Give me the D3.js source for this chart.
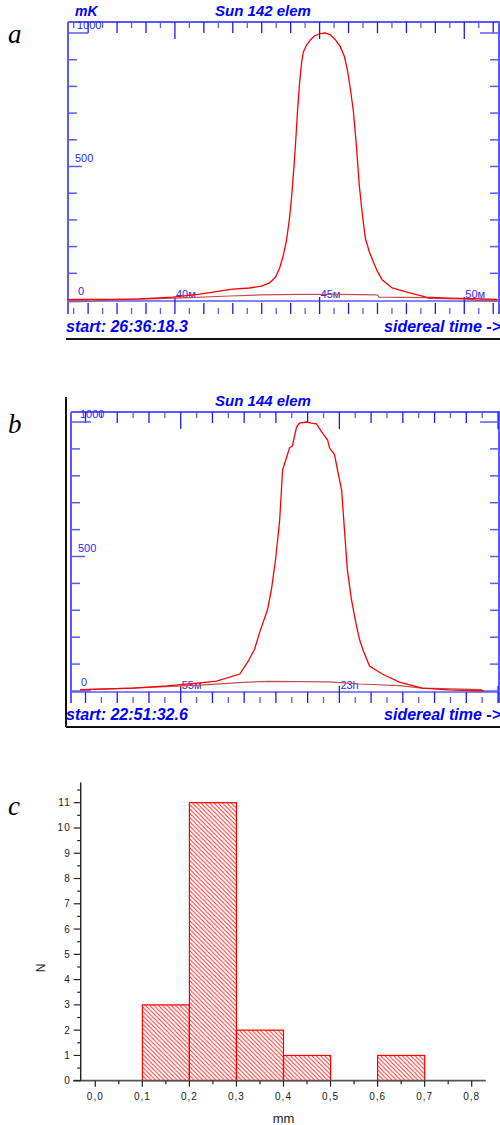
<!DOCTYPE html>
<html>
<head>
<meta charset="utf-8">
<script src="https://cdn.jsdelivr.net/npm/d3@7/dist/d3.min.js"></script>
<style>
	body { margin: 0; background: #fff; }
	svg { display: block; }
	.panel-letter { font-family: "Liberation Serif", "Times New Roman", serif; font-style: italic; font-size: 27px; fill: #000; }
	.scan-title { font-family: "Liberation Sans", Arial, sans-serif; font-weight: bold; font-style: italic; fill: #0000ff; }
	.scan-tick { font-family: "Liberation Sans", Arial, sans-serif; font-size: 11px; fill: #2a2aff; }
	.hist-tick { font-family: "Liberation Sans", Arial, sans-serif; font-size: 10px; fill: #222; letter-spacing: 1px; }
</style>
</head>
<body>
<svg id="fig" width="500" height="1125"></svg>
<script>
"use strict";

// panel a: Sun 142 elem. time in sidereal minutes (after 26h), signal in mK
const a_title = "Sun 142 elem";
const a_start = "start: 26:36:18.3";
const a_sun_t = [36.31, 37.86, 38.79, 39.93, 40.86, 41.99, 42.58, 42.99, 43.27, 43.48, 43.62, 43.75, 43.86, 43.96, 44.03, 44.10, 44.17, 44.24, 44.31, 44.38, 44.44, 44.55, 44.68, 44.82, 45.00, 45.20, 45.37, 45.55, 45.72, 45.86, 45.96, 46.06, 46.17, 46.27, 46.37, 46.48, 46.58, 46.72, 46.86, 46.99, 47.17, 47.51, 47.99, 48.68, 49.48, 50.62, 51.13];
const a_sun_v = [2, 2, 4, 11, 22, 41, 45, 52, 64, 86, 120, 169, 225, 307, 382, 479, 588, 712, 816, 891, 929, 955, 974, 989, 998, 1000, 993, 974, 948, 911, 862, 794, 704, 580, 431, 318, 232, 180, 142, 109, 75, 45, 30, 11, 7, 4, 2];
const a_ref_t = [36.31, 37.06, 37.86, 39.13, 40.51, 41.89, 42.93, 44.31, 45.68, 46.99, 47.06, 48.68, 48.79, 50.00, 50.62, 51.13];
const a_ref_v = [-7, -5, 0, 4, 9, 15, 19, 21, 21, 19, 11, 9, 6, 4, -2, -4];
const a_marks = [40, 45, 50];
const a_mark_labels = ["40м", "45м", "50м"];

// panel b: Sun 144 elem. time in sidereal minutes after 22h
const b_title = "Sun 144 elem";
const b_start = "start: 22:51:32.6";
const b_sun_t = [51.83, 52.46, 53.49, 54.56, 55.60, 56.13, 56.86, 57.11, 57.33, 57.49, 57.74, 57.86, 57.99, 58.12, 58.21, 58.34, 58.43, 58.52, 58.65, 58.74, 58.96, 59.12, 59.28, 59.44, 59.63, 59.69, 59.85, 59.94, 60.07, 60.16, 60.25, 60.38, 60.51, 60.63, 60.76, 60.95, 61.35, 61.89, 62.61, 63.46, 64.56];
const b_sun_v = [4, 7, 11, 19, 30, 37, 63, 107, 156, 219, 304, 378, 489, 637, 822, 870, 904, 911, 981, 996, 1000, 996, 993, 963, 933, 904, 878, 822, 748, 600, 452, 341, 259, 193, 148, 93, 63, 33, 11, 4, 0];
const b_ref_t = [51.83, 53.49, 55.60, 57.11, 57.74, 59.69, 60.63, 61.89, 62.61, 64.50];
const b_ref_v = [5, 11, 22, 33, 36, 34, 26, 20, 11, 5];
const b_marks = [55, 60];
const b_mark_labels = ["55м", "23h"];

// panel c: histogram of sizes, mm
const c_bin_lo = [0.1, 0.2, 0.3, 0.4, 0.6];
const c_bin_hi = [0.2, 0.3, 0.4, 0.5, 0.7];
const c_counts = [3, 11, 2, 1, 1];
const c_xticks = [0, 0.1, 0.2, 0.3, 0.4, 0.5, 0.6, 0.7, 0.8];
const c_xlabels = ["0,0", "0,1", "0,2", "0,3", "0,4", "0,5", "0,6", "0,7", "0,8"];
const c_yticks = d3.range(0, 12);

const svg = d3.select("#fig");
const BLUE = "#5a5aff";
const TICKBLUE = "#1a1aff";

// defs: hatch for the histogram bars
let pat = svg.append("defs")
	.append("pattern")
	.attr("id", "hatch")
	.attr("patternUnits", "userSpaceOnUse")
	.attr("width", 4.3)
	.attr("height", 4.3);
pat.append("path")
	.attr("d", "M-1,-1 L5.3,5.3 M3.3,-1 L5.3,1 M-1,3.3 L1,5.3")
	.attr("stroke", "#ff2020")
	.attr("stroke-width", 0.9);

function drawScan(cfg) {
	let g = svg.append("g");
	let x = d3.scaleLinear().domain(cfg.xdomain).range([cfg.left, cfg.right]);
	let y = d3.scaleLinear().domain([0, 1000]).range(cfg.yrange);
	let y0 = y(0) + 1;

	// frame lines
	g.append("line")
		.attr("x1", cfg.left).attr("x2", 500)
		.attr("y1", cfg.top).attr("y2", cfg.top)
		.attr("stroke", BLUE).attr("stroke-width", 2);
	g.append("line")
		.attr("x1", cfg.left).attr("x2", cfg.left)
		.attr("y1", cfg.top).attr("y2", cfg.tickBottom)
		.attr("stroke", BLUE).attr("stroke-width", 2);
	g.append("line")
		.attr("x1", cfg.right).attr("x2", cfg.right)
		.attr("y1", cfg.top).attr("y2", cfg.tickBottom)
		.attr("stroke", BLUE).attr("stroke-width", 2);
	g.append("line")
		.attr("x1", cfg.left).attr("x2", 500)
		.attr("y1", y0).attr("y2", y0)
		.attr("stroke", BLUE).attr("stroke-width", 1.5);

	// time ticks every half minute, top and bottom
	let halves = d3.range(Math.ceil(cfg.xdomain[0] * 2), Math.floor(cfg.xdomain[1] * 2) + 1).map(d => d / 2);
	let tlen = d => d % 5 == 0 ? 17 : (d % 1 == 0 ? 11 : 6);
	g.selectAll(".ttop")
		.data(halves)
		.enter()
		.append("line")
		.attr("x1", d => x(d)).attr("x2", d => x(d))
		.attr("y1", cfg.top).attr("y2", d => cfg.top + tlen(d))
		.attr("stroke", d => d % 1 == 0 ? TICKBLUE : BLUE)
		.attr("stroke-width", 1.3);
	g.selectAll(".tbot")
		.data(halves)
		.enter()
		.append("line")
		.attr("x1", d => x(d)).attr("x2", d => x(d))
		.attr("y1", cfg.tickBottom).attr("y2", d => cfg.tickBottom - tlen(d))
		.attr("stroke", d => d % 1 == 0 ? TICKBLUE : BLUE)
		.attr("stroke-width", 1.3);

	// signal ticks every 100 mK, left and right
	let levels = d3.range(0, 1001, 100);
	let vlen = d => (d == 0 || d == 1000) ? 20 : (d == 500 ? 14 : 9);
	g.selectAll(".vleft")
		.data(levels)
		.enter()
		.append("line")
		.attr("x1", cfg.left).attr("x2", d => cfg.left + vlen(d))
		.attr("y1", d => y(d)).attr("y2", d => y(d))
		.attr("stroke", BLUE).attr("stroke-width", 1.5);
	g.selectAll(".vright")
		.data(levels)
		.enter()
		.append("line")
		.attr("x1", cfg.right).attr("x2", d => cfg.right - ((d == 0 || d == 1000) ? 19 : 9))
		.attr("y1", d => y(d)).attr("y2", d => y(d))
		.attr("stroke", BLUE).attr("stroke-width", 1.5);

	g.selectAll(".vlab")
		.data([1000, 500, 0])
		.enter()
		.append("text")
		.classed("scan-tick", true)
		.attr("x", d => cfg.left + (d == 1000 ? 9 : d == 500 ? 7 : 10))
		.attr("y", d => d == 1000 ? y(d) - 4 : y(d) - 5)
		.text(d => d);

	// 5-minute marks labels
	g.selectAll(".mlab")
		.data(cfg.marks)
		.enter()
		.append("text")
		.classed("scan-tick", true)
		.attr("x", d => x(d) + 1)
		.attr("y", y0 - 3)
		.text((d, i) => cfg.markLabels[i]);

	// curves
	let line = d3.line()
		.x(d => x(d[0]))
		.y(d => y(d[1]));
	g.append("path")
		.datum(d3.zip(cfg.ref_t, cfg.ref_v))
		.attr("d", line)
		.attr("fill", "none")
		.attr("stroke", "#c05050")
		.attr("stroke-width", 1.2);
	g.append("path")
		.datum(d3.zip(cfg.sun_t, cfg.sun_v))
		.attr("d", line)
		.attr("fill", "none")
		.attr("stroke", "#ff0000")
		.attr("stroke-width", 1.3);

	// titles
	g.append("text")
		.classed("scan-title", true)
		.attr("x", 263)
		.attr("y", cfg.top - 6)
		.attr("text-anchor", "middle")
		.style("font-size", "15px")
		.text(cfg.title);
	if (cfg.unit) {
		g.append("text")
			.classed("scan-title", true)
			.attr("x", 75)
			.attr("y", cfg.top - 6)
			.style("font-size", "14px")
			.text(cfg.unit);
	}
	g.append("text")
		.classed("scan-title", true)
		.attr("x", cfg.frameLeft)
		.attr("y", cfg.frameBottom - 7)
		.style("font-size", "16px")
		.text(cfg.start);
	g.append("text")
		.classed("scan-title", true)
		.attr("x", 501)
		.attr("y", cfg.frameBottom - 7)
		.attr("text-anchor", "end")
		.style("font-size", "16px")
		.text("sidereal time ->");

	// black frame
	g.append("line")
		.attr("x1", cfg.frameLeft).attr("x2", 500)
		.attr("y1", cfg.frameBottom).attr("y2", cfg.frameBottom)
		.attr("stroke", "#111").attr("stroke-width", 2);
	if (cfg.frameTop) {
		g.append("line")
			.attr("x1", cfg.frameLeft).attr("x2", cfg.frameLeft)
			.attr("y1", cfg.frameTop).attr("y2", cfg.frameBottom)
			.attr("stroke", "#111").attr("stroke-width", 2);
	}
}

drawScan({
	title: a_title, start: a_start, unit: "mK",
	sun_t: a_sun_t, sun_v: a_sun_v, ref_t: a_ref_t, ref_v: a_ref_v,
	marks: a_marks, markLabels: a_mark_labels,
	xdomain: [36.305, 51.2], left: 68, right: 499,
	yrange: [300, 33], top: 22, tickBottom: 314,
	frameLeft: 66, frameBottom: 339
});

drawScan({
	title: b_title, start: b_start,
	sun_t: b_sun_t, sun_v: b_sun_v, ref_t: b_ref_t, ref_v: b_ref_v,
	marks: b_marks, markLabels: b_mark_labels,
	xdomain: [51.543, 65.03], left: 71, right: 499,
	yrange: [691, 422], top: 412, tickBottom: 703,
	frameLeft: 66, frameTop: 397, frameBottom: 727
});

// panel c histogram
let hx = d3.scaleLinear().domain([0, 0.8]).range([95.3, 471.7]);
let hy = d3.scaleLinear().domain([0, 11]).range([1080.7, 802.7]);
let hg = svg.append("g");

hg.selectAll(".bar")
	.data(c_counts)
	.enter()
	.append("rect")
	.attr("x", (d, i) => hx(c_bin_lo[i]))
	.attr("width", (d, i) => hx(c_bin_hi[i]) - hx(c_bin_lo[i]))
	.attr("y", d => hy(d))
	.attr("height", d => hy(0) - hy(d))
	.attr("fill", "url(#hatch)")
	.attr("stroke", "#ff0000")
	.attr("stroke-width", 1.2);

// axes drawn by hand to get the inward/outward minor ticks
hg.append("line")
	.attr("x1", hx(-0.047)).attr("x2", hx(0.83))
	.attr("y1", hy(0)).attr("y2", hy(0))
	.attr("stroke", "#555").attr("stroke-width", 1.8);
hg.append("line")
	.attr("x1", hx(-0.031)).attr("x2", hx(-0.031))
	.attr("y1", hy(0)).attr("y2", hy(11.8))
	.attr("stroke", "#222").attr("stroke-width", 1.4);

let xminor = d3.range(0, 16).map(d => d * 0.1 + 0.05).filter(d => d < 0.8);
hg.selectAll(".xmaj")
	.data(c_xticks)
	.enter()
	.append("line")
	.attr("x1", d => hx(d)).attr("x2", d => hx(d))
	.attr("y1", hy(0)).attr("y2", hy(0) + 6)
	.attr("stroke", "#222").attr("stroke-width", 1.2);
hg.selectAll(".xmin")
	.data(xminor)
	.enter()
	.append("line")
	.attr("x1", d => hx(d)).attr("x2", d => hx(d))
	.attr("y1", hy(0)).attr("y2", hy(0) + 3.5)
	.attr("stroke", "#222").attr("stroke-width", 1.2);
hg.selectAll(".xlab")
	.data(c_xticks)
	.enter()
	.append("text")
	.classed("hist-tick", true)
	.attr("x", d => hx(d))
	.attr("y", hy(0) + 19)
	.attr("text-anchor", "middle")
	.text((d, i) => c_xlabels[i]);

let yaxX = hx(-0.031);
hg.selectAll(".ymaj")
	.data(c_yticks)
	.enter()
	.append("line")
	.attr("x1", yaxX - 7).attr("x2", yaxX)
	.attr("y1", d => hy(d)).attr("y2", d => hy(d))
	.attr("stroke", "#222").attr("stroke-width", 1.2);
hg.selectAll(".ymin")
	.data(c_yticks.map(d => d + 0.5))
	.enter()
	.append("line")
	.attr("x1", yaxX - 3.5).attr("x2", yaxX)
	.attr("y1", d => hy(d)).attr("y2", d => hy(d))
	.attr("stroke", "#222").attr("stroke-width", 1.2);
hg.selectAll(".ylab")
	.data(c_yticks)
	.enter()
	.append("text")
	.classed("hist-tick", true)
	.attr("x", yaxX - 10)
	.attr("y", d => hy(d) + 3.5)
	.attr("text-anchor", "end")
	.text(d => d);

hg.append("text")
	.attr("transform", "translate(45, 968) rotate(-90)")
	.attr("text-anchor", "middle")
	.style("font-family", "Liberation Sans, Arial, sans-serif")
	.style("font-size", "12px")
	.attr("fill", "#222")
	.text("N");
hg.append("text")
	.attr("x", hx(0.4))
	.attr("y", 1123)
	.attr("text-anchor", "middle")
	.style("font-family", "Liberation Sans, Arial, sans-serif")
	.style("font-size", "13px")
	.attr("fill", "#222")
	.text("mm");

// panel letters
svg.selectAll(".panel-letter")
	.data([["a", 43], ["b", 433], ["c", 815]])
	.enter()
	.append("text")
	.classed("panel-letter", true)
	.attr("x", 8)
	.attr("y", d => d[1])
	.text(d => d[0]);
</script>
</body>
</html>
